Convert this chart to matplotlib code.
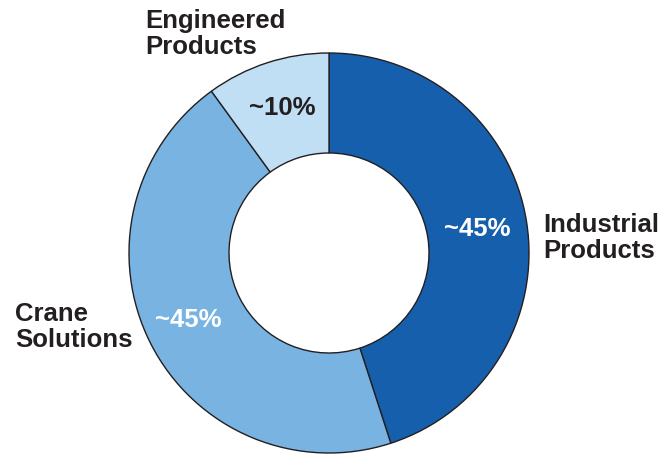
import matplotlib.pyplot as plt

segments = ['Industrial\nProducts', 'Crane\nSolutions', 'Engineered\nProducts']
shares = [45, 45, 10]
share_labels = ['~45%', '~45%', '~10%']
colors = ['#165fad', '#78b3e2', '#c0dff5']
label_colors = ['white', 'white', '#231f20']

plt.rcParams['font.family'] = ['Liberation Sans', 'DejaVu Sans']

fig = plt.figure(figsize=(6.71, 4.54), dpi=100)
ax = fig.add_axes([0, 0, 1, 1])

# pixel-like coordinates, origin bottom-left
cx, cy, r = 329, 201, 200
wedges, _ = ax.pie(shares, colors=colors, startangle=90, counterclock=False,
                   radius=r, center=(cx, cy),
                   wedgeprops=dict(width=r * 0.5, edgecolor='#231f20', linewidth=1))
ax.set_xlim(0, 671)
ax.set_ylim(0, 454)
ax.set_aspect('equal')
ax.axis('off')

# percent labels inside the ring
pct_pos = [(477, 454 - 229), (188, 454 - 320), (282, 454 - 108)]
for (x, y), txt, c in zip(pct_pos, share_labels, label_colors):
    ax.text(x, y, txt, ha='center', va='center', fontsize=18.5,
            fontweight='bold', color=c)

# category names outside
name_pos = [(543, 454 - 238), (15, 454 - 327), (145, 454 - 34)]
for (x, y), txt in zip(name_pos, segments):
    ax.text(x, y, txt, ha='left', va='center', fontsize=18.5,
            fontweight='bold', color='#231f20', linespacing=1.1)

fig.savefig('out.png', dpi=100)
